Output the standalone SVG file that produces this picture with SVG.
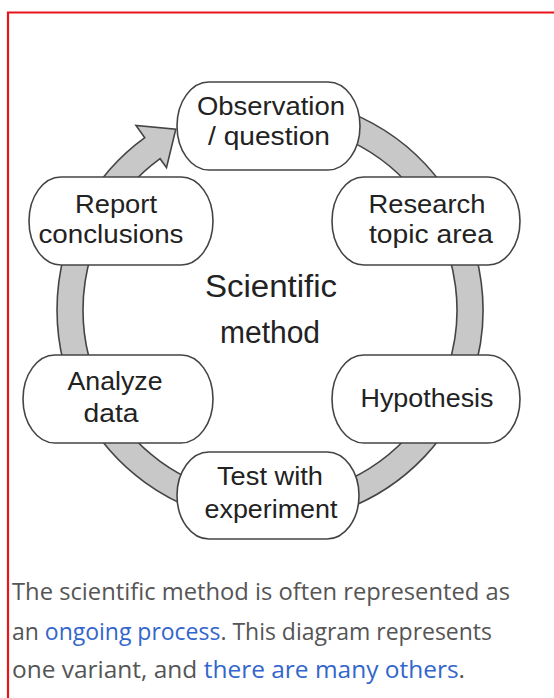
<svg xmlns="http://www.w3.org/2000/svg" width="554" height="698" viewBox="0 0 554 698">
<style>
.node rect{fill:#fff;stroke:#444;stroke-width:1.6}
.node text{font-family:"Liberation Sans",Arial,sans-serif;font-size:25px;fill:#222;text-anchor:middle}
.title{font-family:"Liberation Sans",Arial,sans-serif;font-size:31px;fill:#222;text-anchor:middle}
.cap{font-family:"Open Sans","Noto Sans",sans-serif;font-size:23px;fill:#555}
.link{fill:#3366cc}
</style>
<rect width="554" height="698" fill="#fff"/>
<path d="M8,698 V12.5 H554" fill="none" stroke="#e8141c" stroke-width="2.2"/>
<g id="connectors">
<path d="M270,97 A213,213 0 1 1 144.8,137.7 L136.0,125.5 L175.8,129.1 L166.5,167.6 L160.1,158.7 A187,187 0 1 0 270,123 Z" fill="#c8c8c8" stroke="#444" stroke-width="1.6" stroke-linejoin="miter"/>
</g>
<g id="observation" class="node">
<rect x="177" y="82" width="183" height="88" rx="32" ry="44"/>
<text x="271" y="115" textLength="148" lengthAdjust="spacingAndGlyphs">Observation</text>
<text x="269" y="145" textLength="122" lengthAdjust="spacingAndGlyphs">/ question</text>
</g>
<g id="research" class="node">
<rect x="332" y="177" width="188" height="88" rx="32" ry="44"/>
<text x="427" y="213" textLength="117" lengthAdjust="spacingAndGlyphs">Research</text>
<text x="431" y="243" textLength="124" lengthAdjust="spacingAndGlyphs">topic area</text>
</g>
<g id="hypothesis" class="node">
<rect x="332" y="355" width="188" height="88" rx="32" ry="44"/>
<text x="427" y="407" textLength="133" lengthAdjust="spacingAndGlyphs">Hypothesis</text>
</g>
<g id="test" class="node">
<rect x="177" y="452" width="182" height="87" rx="32" ry="44"/>
<text x="270" y="485" textLength="106" lengthAdjust="spacingAndGlyphs">Test with</text>
<text x="271" y="518" textLength="133" lengthAdjust="spacingAndGlyphs">experiment</text>
</g>
<g id="analyze" class="node">
<rect x="23" y="355" width="190" height="88" rx="32" ry="44"/>
<text x="115" y="390" textLength="95" lengthAdjust="spacingAndGlyphs">Analyze</text>
<text x="111" y="422" textLength="55" lengthAdjust="spacingAndGlyphs">data</text>
</g>
<g id="report" class="node">
<rect x="29" y="177" width="184" height="88" rx="32" ry="44"/>
<text x="116" y="213" textLength="82" lengthAdjust="spacingAndGlyphs">Report</text>
<text x="111" y="243" textLength="145" lengthAdjust="spacingAndGlyphs">conclusions</text>
</g>
<g id="center-label">
<text class="title" x="271" y="297" textLength="132" lengthAdjust="spacingAndGlyphs">Scientific</text>
<text class="title" x="270" y="343" textLength="100" lengthAdjust="spacingAndGlyphs">method</text>
</g>
<g id="caption">
<text class="cap" x="12" y="600" textLength="498" lengthAdjust="spacingAndGlyphs">The scientific method is often represented as</text>
<text class="cap" x="12" y="640" textLength="480" lengthAdjust="spacingAndGlyphs">an <tspan class="link">ongoing process</tspan>. This diagram represents</text>
<text class="cap" x="12" y="678" textLength="453" lengthAdjust="spacingAndGlyphs">one variant, and <tspan class="link">there are many others</tspan>.</text>
</g>
</svg>
